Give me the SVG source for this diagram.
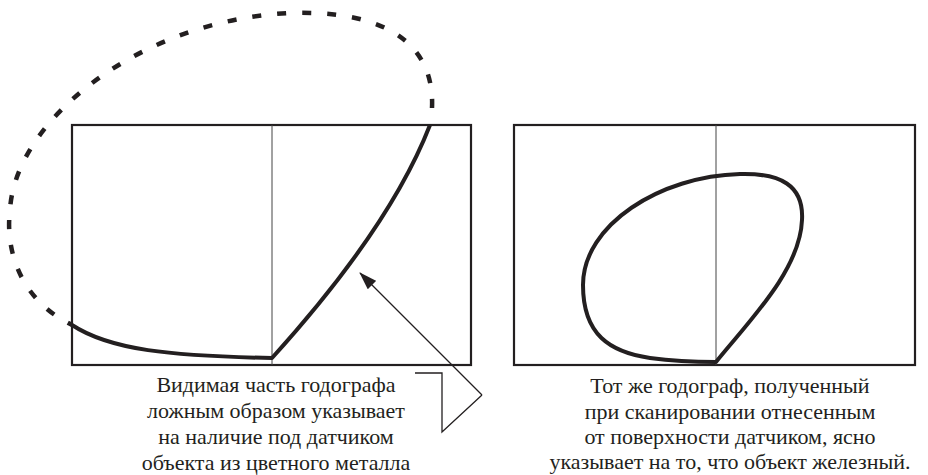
<svg xmlns="http://www.w3.org/2000/svg" width="928" height="475" viewBox="0 0 928 475">
<style>
.frame{fill:none;stroke:#231f20;stroke-width:2.2}
.axis{stroke:#444;stroke-width:1}
.curve{fill:none;stroke:#231f20;stroke-width:4;stroke-linejoin:round}
.dash{fill:none;stroke:#231f20;stroke-width:4.5;stroke-dasharray:9 16}
.lead{fill:none;stroke:#231f20;stroke-width:1.3}
.txt{font-family:Tinos,"Liberation Serif","Times New Roman","DejaVu Serif","Noto Serif",serif;font-size:22px;fill:#231f20;text-anchor:middle}
</style>
<defs>
<marker id="arr" viewBox="0 0 18 12" refX="17" refY="6" markerWidth="18" markerHeight="12" markerUnits="userSpaceOnUse" orient="auto">
<path d="M0,0 L18,6 L0,12 Z" fill="#231f20"/>
</marker>
</defs>
<g id="left-plot">
<rect class="frame" x="72" y="125" width="399" height="240"/>
<line class="axis" x1="272" y1="125" x2="272" y2="365"/>
<path class="curve" d="M72,325 C110,350 170,356 272,358 C320,305 395,215 430,125"/>
<path class="dash" d="M432,108 C435,40 380,10 290,13 C140,20 15,120 10,210 C5,250 20,300 72,325"/>
</g>
<g id="right-plot">
<rect class="frame" x="514" y="125" width="401" height="240"/>
<line class="axis" x1="716" y1="125" x2="716" y2="365"/>
<path class="curve" d="M716,362 C750,320 800,270 802,220 C804,185 780,173 740,174 C660,176 583,225 583,285 C583,335 610,352 650,358 C680,362 700,362 716,362 Z"/>
</g>
<g id="connectors">
<polyline class="lead" points="415,373 442,373 442,432 482,395"/>
<line class="lead" x1="482" y1="395" x2="360" y2="273" marker-end="url(#arr)"/>
</g>
<g id="left-caption">
<text class="txt" x="276" y="392">Видимая часть годографа</text>
<text class="txt" x="276" y="418">ложным образом указывает</text>
<text class="txt" x="276" y="444">на наличие под датчиком</text>
<text class="txt" x="276" y="470">объекта из цветного металла</text>
</g>
<g id="right-caption">
<text class="txt" x="730" y="393">Тот же годограф, полученный</text>
<text class="txt" x="730" y="419">при сканировании отнесенным</text>
<text class="txt" x="730" y="444">от поверхности датчиком, ясно</text>
<text class="txt" x="730" y="469">указывает на то, что объект железный.</text>
</g>
</svg>
